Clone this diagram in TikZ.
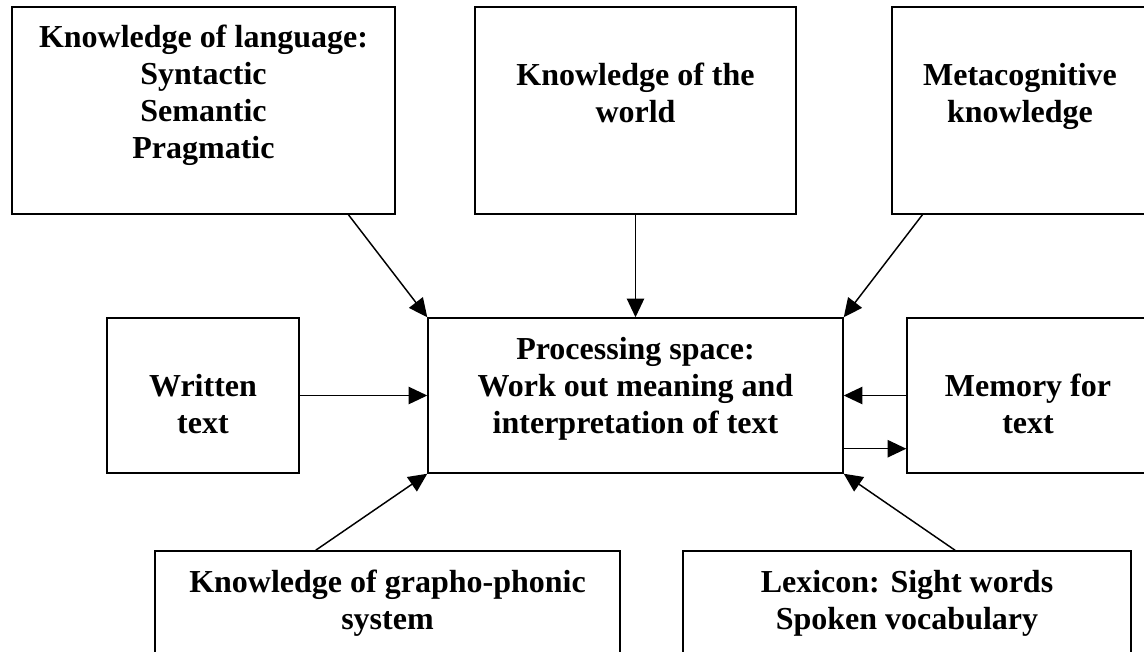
\documentclass[tikz,border=0pt]{standalone}
\usepackage{fontspec}
\setmainfont{Liberation Serif}
\usetikzlibrary{arrows.meta,calc,fit}

\tikzset{
  box/.style={draw, line width=1.1pt, rectangle, inner sep=0pt},
  % anchor=base sits on the baseline of the last line
  txt/.style={anchor=base, align=center, inner sep=0pt,
    font=\fontsize{24}{27.75}\selectfont\bfseries},
  arr/.style={line width=1.1pt, -{Triangle[length=14pt,width=13pt]}}
}

\begin{document}
\begin{tikzpicture}[x=0.75pt,y=-0.75pt]
  \clip (0,0) rectangle (1144,651);
  \fill[white] (0,0) rectangle (1144,651);

  % boxes (corner to corner)
  \node[box, fit={(12,7) (395,214)}] (lang) {};
  \node[box, fit={(475,7) (796,214)}] (world) {};
  \node[box, fit={(892,7) (1148,214)}] (meta) {};
  \node[box, fit={(107,318) (299,473)}] (written) {};
  \node[box, fit={(428,318) (843,473)}] (proc) {};
  \node[box, fit={(907,318) (1149,473)}] (memory) {};
  \node[box, fit={(155,551) (620,700)}] (grapho) {};
  \node[box, fit={(683,551) (1131,700)}] (lexicon) {};

  % labels
  \node[txt] (langT) at (203.5,158) {Knowledge of language:\\Syntactic\\Semantic\\Pragmatic};
  \node[txt] (worldT) at (635.5,122) {Knowledge of the\\world};
  \node[txt] (metaT) at (1020,122) {Metacognitive\\knowledge};
  \node[txt] (writtenT) at (203,433) {Written\\text};
  \node[txt] (procT) at (635.5,433) {Processing space:\\Work out meaning and\\interpretation of text};
  \node[txt] (memoryT) at (1028,433) {Memory for\\text};
  \node[txt] (graphoT) at (387.5,629) {Knowledge of grapho-phonic\\system};
  \node[txt] (lexiconT) at (907,629) {Lexicon: Sight words\\Spoken vocabulary};

  % connectors
  \draw[arr] ($(lang.south west)!.877!(lang.south east)$) -- (proc.north west);
  \draw[arr] (world.south) -- (proc.north);
  \draw[arr] ($(meta.south west)!.121!(meta.south east)$) -- (proc.north east);
  \draw[arr] (written.east) -- (proc.west);
  \draw[arr] (memory.west) -- (proc.east);
  \coordinate (pm) at ($(proc.north east)!.84!(proc.south east)$);
  \draw[arr] (pm) -- (pm -| memory.west);
  \draw[arr] ($(grapho.north west)!.346!(grapho.north east)$) -- (proc.south west);
  \draw[arr] ($(lexicon.north west)!.607!(lexicon.north east)$) -- (proc.south east);
\end{tikzpicture}
\end{document}
